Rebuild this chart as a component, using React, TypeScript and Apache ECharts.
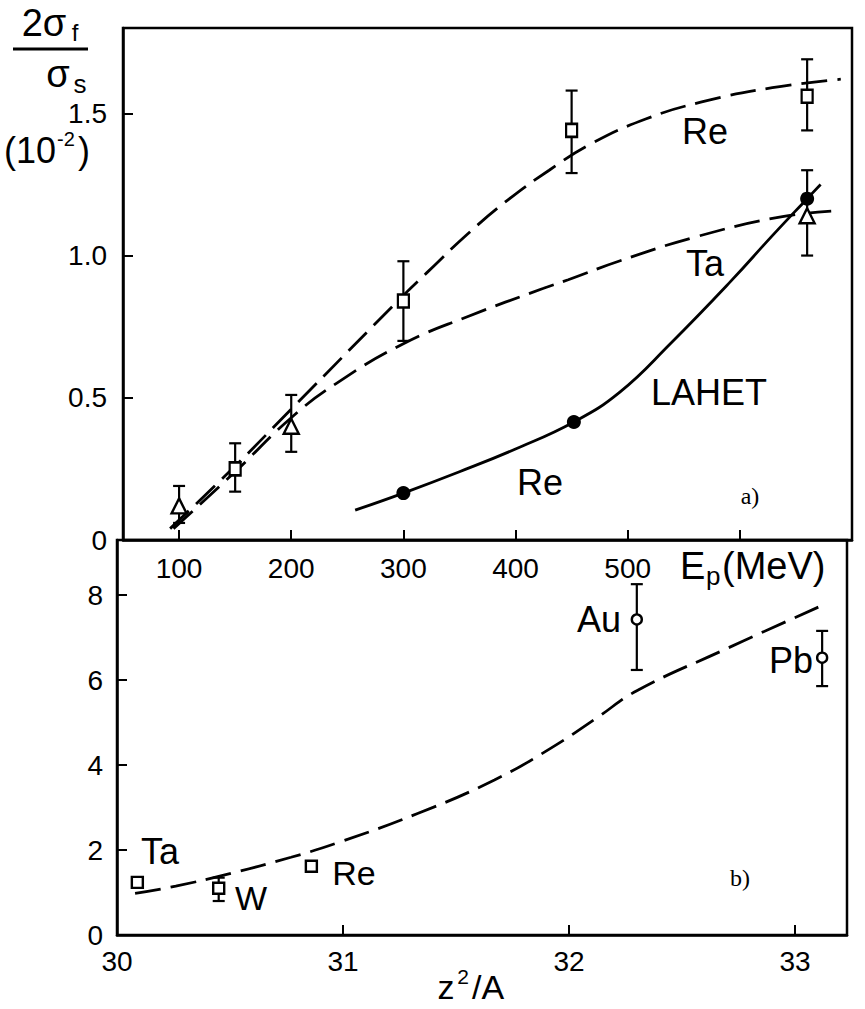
import React, { useEffect, useRef } from 'react';
import * as echarts from 'echarts';

const FONT = "'Liberation Sans', Arial, sans-serif";
const SERIF = "'Liberation Serif', 'Times New Roman', serif";

// ---------- panel a) : 2σf/σs (10^-2) vs Ep (MeV) ----------
const reExpE = [150, 300, 450, 660];
const reExpVal = [0.25, 0.84, 1.44, 1.56];
const reExpLo = [0.17, 0.70, 1.29, 1.44];
const reExpHi = [0.34, 0.98, 1.58, 1.69];

const taExpE = [100, 200, 660];
const taExpVal = [0.12, 0.40, 1.14];
const taExpLo = [0.06, 0.31, 1.0];
const taExpHi = [0.19, 0.51, 1.30];

const lahetE = [300, 452, 660];
const lahetVal = [0.165, 0.415, 1.2];

const reCurveE = [92, 150, 200, 300, 321, 357, 393, 430, 466, 516, 566, 629, 690];
const reCurveVal = [0.04, 0.26, 0.46, 0.86, 0.94, 1.075, 1.195, 1.3, 1.39, 1.48, 1.54, 1.59, 1.62];

const taCurveE = [95, 150, 200, 240, 300, 357, 425, 447, 492, 561, 638, 690];
const taCurveVal = [0.04, 0.24, 0.43, 0.55, 0.69, 0.785, 0.885, 0.915, 0.98, 1.066, 1.137, 1.158];

const lahetCurveE = [257, 300, 350, 400, 452, 493, 538, 592, 629, 660, 672];
const lahetCurveVal = [0.105, 0.165, 0.24, 0.32, 0.415, 0.52, 0.69, 0.91, 1.07, 1.2, 1.25];

const epTicks = [100, 200, 300, 400, 500, 600];
const epLabels = [100, 200, 300, 400, 500];
const ratioTicks = [0, 0.5, 1.0, 1.5];

// ---------- panel b) : vs z^2/A ----------
const elements = ['Ta', 'W', 'Re', 'Au', 'Pb'];
const z2a = [30.09, 30.45, 30.86, 32.3, 33.12];
const elemVal = [1.24, 1.1, 1.62, 7.43, 6.53];
const elemLo = [null, 0.8, null, 6.24, 5.86];
const elemHi = [null, 1.35, null, 8.26, 7.16];
const squareElems = ['Ta', 'W', 'Re'];

const bCurveX = [30.08, 30.26, 30.51, 30.77, 30.97, 31.33, 31.67, 31.92, 32.12, 32.3, 32.68, 33.12];
const bCurveVal = [0.98, 1.15, 1.46, 1.83, 2.16, 2.86, 3.65, 4.4, 5.1, 5.75, 6.7, 7.76];

const zTicks = [30, 31, 32, 33];
const bTicks = [0, 2, 4, 6, 8];

function errorSeries(axis: number, xs: number[], lo: (number | null)[], hi: (number | null)[]) {
  const data: number[][] = [];
  xs.forEach((x, i) => {
    if (lo[i] != null && hi[i] != null) data.push([x, lo[i] as number, hi[i] as number]);
  });
  return {
    type: 'custom',
    xAxisIndex: axis,
    yAxisIndex: axis,
    silent: true,
    z: 2,
    encode: { x: 0, y: [1, 2] },
    data,
    renderItem: (params: any, api: any) => {
      const p1 = api.coord([api.value(0), api.value(1)]);
      const p2 = api.coord([api.value(0), api.value(2)]);
      const hw = 6;
      const st = { stroke: '#000', lineWidth: 2.2 };
      return {
        type: 'group',
        children: [
          { type: 'line', shape: { x1: p1[0], y1: p1[1], x2: p2[0], y2: p2[1] }, style: st },
          { type: 'line', shape: { x1: p1[0] - hw, y1: p1[1], x2: p1[0] + hw, y2: p1[1] }, style: st },
          { type: 'line', shape: { x1: p2[0] - hw, y1: p2[1], x2: p2[0] + hw, y2: p2[1] }, style: st },
        ],
      };
    },
  };
}

function curve(axis: number, xs: number[], ys: number[], dashed: boolean) {
  return {
    type: 'line',
    xAxisIndex: axis,
    yAxisIndex: axis,
    data: xs.map((x, i) => [x, ys[i]]),
    smooth: 0.45,
    showSymbol: false,
    silent: true,
    z: 1,
    lineStyle: { color: '#000', width: 2.8, type: dashed ? [26, 10] : 'solid' },
  };
}

function txt(x: number, y: number, text: string, size: number, family = FONT, align = 'center') {
  return {
    type: 'text',
    x,
    y,
    style: { text, fontSize: size, fontFamily: family, fill: '#000', align, verticalAlign: 'middle' },
  };
}

const hollow = { color: '#fff', borderColor: '#000', borderWidth: 2.4, opacity: 1 };

export default function App() {
  const ref = useRef<HTMLDivElement>(null);
  useEffect(() => {
    if (!ref.current) return;
    const chart = echarts.init(ref.current, undefined, { renderer: 'svg' });
    const axisCommon = {
      axisLine: { show: true, onZero: false, lineStyle: { color: '#000', width: 2.5 } },
      splitLine: { show: false },
    };
    const option: any = {
      animation: false,
      backgroundColor: '#fff',
      grid: [
        { left: 123, top: 28, width: 729, height: 512, show: true, borderColor: '#000', borderWidth: 2.5 },
        { left: 117, top: 540, width: 730, height: 395, show: true, borderColor: '#000', borderWidth: 2.5 },
      ],
      xAxis: [
        {
          ...axisCommon,
          type: 'value',
          gridIndex: 0,
          min: 50,
          max: 700,
          axisTick: { show: true, inside: true, length: 10, customValues: epTicks, lineStyle: { color: '#000', width: 2 } },
          axisLabel: { customValues: epLabels, margin: 14, fontSize: 28, fontFamily: FONT, color: '#000' },
        },
        {
          ...axisCommon,
          type: 'value',
          gridIndex: 1,
          min: 30,
          max: 33.23,
          axisTick: { show: true, inside: true, length: 10, customValues: zTicks, lineStyle: { color: '#000', width: 2 } },
          axisLabel: { customValues: zTicks, margin: 12, fontSize: 28, fontFamily: FONT, color: '#000' },
        },
      ],
      yAxis: [
        {
          ...axisCommon,
          type: 'value',
          gridIndex: 0,
          min: 0,
          max: 1.8,
          axisTick: { show: true, inside: true, length: 10, customValues: ratioTicks, lineStyle: { color: '#000', width: 2 } },
          axisLabel: {
            customValues: ratioTicks,
            margin: 16,
            fontSize: 28,
            fontFamily: FONT,
            color: '#000',
            formatter: (v: number) => (v === 0 ? '0' : v.toFixed(1)),
          },
        },
        {
          ...axisCommon,
          type: 'value',
          gridIndex: 1,
          min: 0,
          max: 9.3,
          axisTick: { show: true, inside: true, length: 10, customValues: bTicks, lineStyle: { color: '#000', width: 2 } },
          axisLabel: { customValues: bTicks, margin: 14, fontSize: 28, fontFamily: FONT, color: '#000' },
        },
      ],
      series: [
        curve(0, reCurveE, reCurveVal, true),
        curve(0, taCurveE, taCurveVal, true),
        curve(0, lahetCurveE, lahetCurveVal, false),
        curve(1, bCurveX, bCurveVal, true),
        errorSeries(0, reExpE, reExpLo, reExpHi),
        errorSeries(0, taExpE, taExpLo, taExpHi),
        errorSeries(1, z2a, elemLo, elemHi),
        {
          type: 'scatter',
          xAxisIndex: 0,
          yAxisIndex: 0,
          z: 5,
          symbol: 'rect',
          symbolSize: [11, 13],
          itemStyle: hollow,
          data: reExpE.map((e, i) => [e, reExpVal[i]]),
        },
        {
          type: 'scatter',
          xAxisIndex: 0,
          yAxisIndex: 0,
          z: 5,
          symbol: 'triangle',
          symbolSize: [15, 15],
          itemStyle: hollow,
          data: taExpE.map((e, i) => [e, taExpVal[i]]),
        },
        {
          type: 'scatter',
          xAxisIndex: 0,
          yAxisIndex: 0,
          z: 6,
          symbol: 'circle',
          symbolSize: 14,
          itemStyle: { color: '#000', opacity: 1 },
          data: lahetE.map((e, i) => [e, lahetVal[i]]),
        },
        {
          type: 'scatter',
          xAxisIndex: 1,
          yAxisIndex: 1,
          z: 5,
          symbol: 'rect',
          symbolSize: [11, 11],
          itemStyle: hollow,
          data: elements
            .map((el, i) => ({ el, v: [z2a[i], elemVal[i]] }))
            .filter((d) => squareElems.includes(d.el))
            .map((d) => d.v),
        },
        {
          type: 'scatter',
          xAxisIndex: 1,
          yAxisIndex: 1,
          z: 5,
          symbol: 'circle',
          symbolSize: 10,
          itemStyle: hollow,
          data: elements
            .map((el, i) => ({ el, v: [z2a[i], elemVal[i]] }))
            .filter((d) => !squareElems.includes(d.el))
            .map((d) => d.v),
        },
      ],
      graphic: [
        // y-axis title of panel a
        txt(44, 23, '2σ', 38),
        txt(75, 32, 'f', 24),
        { type: 'line', shape: { x1: 13, y1: 49, x2: 88, y2: 49 }, style: { stroke: '#000', lineWidth: 3 } },
        txt(58, 74, 'σ', 38),
        txt(80, 84, 's', 26),
        txt(30, 150, '(10', 36),
        txt(66, 139, '-2', 20),
        txt(84, 150, ')', 36),
        // curve labels panel a
        txt(705, 131, 'Re', 36),
        txt(705, 263, 'Ta', 36),
        txt(709, 392, 'LAHET', 36),
        txt(540, 482, 'Re', 36),
        txt(750, 496, 'a)', 24, SERIF),
        // Ep axis title
        txt(680, 566, 'E', 38, FONT, 'left'),
        txt(706, 576, 'p', 26, FONT, 'left'),
        txt(722, 566, '(MeV)', 38, FONT, 'left'),
        // panel b labels
        txt(160, 851, 'Ta', 36),
        txt(251, 898, 'W', 34),
        txt(354, 873, 'Re', 34),
        txt(599, 619, 'Au', 36),
        txt(791, 660, 'Pb', 36),
        txt(740, 878, 'b)', 24, SERIF),
        // z^2/A title
        txt(446, 987, 'z', 34),
        txt(463, 976, '2', 21),
        txt(488, 987, '/A', 34),
      ],
    };
    chart.setOption(option);
    return () => chart.dispose();
  }, []);
  return (
    <div
      ref={ref}
      style={{ position: 'absolute', left: 0, top: 0, width: 865, height: 1009, background: '#fff' }}
    />
  );
}
